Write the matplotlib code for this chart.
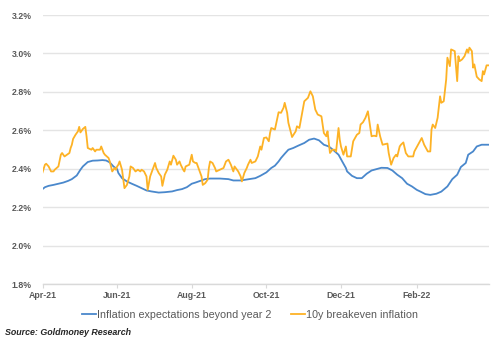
import pandas as pd
import matplotlib.pyplot as plt
import matplotlib.dates as mdates
from matplotlib.ticker import FuncFormatter

plt.rcParams['font.family'] = ['Liberation Sans', 'DejaVu Sans']

# 10y breakeven inflation (%)
be_dates = [
    '2021-04-01', '2021-04-03', '2021-04-04', '2021-04-06', '2021-04-08', '2021-04-10', '2021-04-11',
    '2021-04-14', '2021-04-16', '2021-04-17', '2021-04-19', '2021-04-21', '2021-04-23', '2021-04-24',
    '2021-04-25', '2021-04-26', '2021-04-28', '2021-04-30', '2021-05-01', '2021-05-02', '2021-05-04',
    '2021-05-06', '2021-05-07', '2021-05-08', '2021-05-11', '2021-05-12', '2021-05-14', '2021-05-15',
    '2021-05-18', '2021-05-19', '2021-05-21', '2021-05-22', '2021-05-25', '2021-05-26', '2021-05-28',
    '2021-05-30', '2021-05-31', '2021-06-01', '2021-06-02', '2021-06-03', '2021-06-05', '2021-06-07',
    '2021-06-09', '2021-06-11', '2021-06-12', '2021-06-14', '2021-06-16', '2021-06-18', '2021-06-20',
    '2021-06-21', '2021-06-23', '2021-06-25', '2021-06-26', '2021-06-28', '2021-06-30', '2021-07-02',
    '2021-07-03', '2021-07-05', '2021-07-07', '2021-07-08', '2021-07-10', '2021-07-12', '2021-07-14',
    '2021-07-15', '2021-07-17', '2021-07-19', '2021-07-20', '2021-07-22', '2021-07-23', '2021-07-25',
    '2021-07-26', '2021-07-27', '2021-07-30', '2021-08-01', '2021-08-02', '2021-08-04', '2021-08-05',
    '2021-08-07', '2021-08-09', '2021-08-10', '2021-08-12', '2021-08-14', '2021-08-15', '2021-08-16',
    '2021-08-18', '2021-08-20', '2021-08-21', '2021-08-24', '2021-08-27', '2021-08-29', '2021-08-31',
    '2021-09-02', '2021-09-04', '2021-09-05', '2021-09-08', '2021-09-10', '2021-09-11', '2021-09-13',
    '2021-09-15', '2021-09-16', '2021-09-18', '2021-09-19', '2021-09-22', '2021-09-24', '2021-09-26',
    '2021-09-27', '2021-09-29', '2021-10-01', '2021-10-03', '2021-10-04', '2021-10-05', '2021-10-08',
    '2021-10-11', '2021-10-13', '2021-10-15', '2021-10-16', '2021-10-18', '2021-10-19', '2021-10-22',
    '2021-10-25', '2021-10-26', '2021-10-28', '2021-10-30', '2021-11-01', '2021-11-04', '2021-11-06',
    '2021-11-08', '2021-11-10', '2021-11-12', '2021-11-15', '2021-11-17', '2021-11-19', '2021-11-20',
    '2021-11-22', '2021-11-24', '2021-11-26', '2021-11-27', '2021-11-29', '2021-11-30', '2021-12-01',
    '2021-12-03', '2021-12-05', '2021-12-06', '2021-12-09', '2021-12-11', '2021-12-14', '2021-12-16',
    '2021-12-17', '2021-12-19', '2021-12-21', '2021-12-23', '2021-12-24', '2021-12-26', '2021-12-28',
    '2021-12-30', '2021-12-31', '2022-01-02', '2022-01-04', '2022-01-08', '2022-01-09', '2022-01-11',
    '2022-01-13', '2022-01-15', '2022-01-16', '2022-01-18', '2022-01-19', '2022-01-21', '2022-01-23',
    '2022-01-25', '2022-01-29', '2022-01-30', '2022-02-02', '2022-02-05', '2022-02-07', '2022-02-10',
    '2022-02-12', '2022-02-13', '2022-02-14', '2022-02-16', '2022-02-18', '2022-02-20', '2022-02-21',
    '2022-02-23', '2022-02-25', '2022-02-26', '2022-02-28', '2022-03-01', '2022-03-04', '2022-03-05',
    '2022-03-06', '2022-03-07', '2022-03-08', '2022-03-10', '2022-03-12', '2022-03-14', '2022-03-15',
    '2022-03-16', '2022-03-18', '2022-03-19', '2022-03-20', '2022-03-22', '2022-03-24', '2022-03-26',
    '2022-03-27', '2022-03-28', '2022-03-30', '2022-04-01',
]
be_values = [
    2.381, 2.421, 2.426, 2.412, 2.386, 2.386, 2.395,
    2.412, 2.473, 2.482, 2.464, 2.473, 2.482, 2.508,
    2.525, 2.555, 2.577, 2.595, 2.618, 2.589, 2.607,
    2.618, 2.569, 2.508, 2.499, 2.508, 2.490, 2.499,
    2.499, 2.516, 2.482, 2.473, 2.456, 2.438, 2.386,
    2.404, 2.395, 2.412, 2.421, 2.438, 2.395, 2.299,
    2.316, 2.360, 2.412, 2.404, 2.386, 2.395, 2.386,
    2.395, 2.386, 2.360, 2.290, 2.360, 2.395, 2.430,
    2.404, 2.378, 2.360, 2.311, 2.369, 2.395, 2.438,
    2.421, 2.468, 2.447, 2.421, 2.438, 2.421, 2.395,
    2.386, 2.412, 2.421, 2.473, 2.438, 2.430, 2.430,
    2.395, 2.360, 2.316, 2.325, 2.343, 2.404, 2.438,
    2.430, 2.404, 2.386, 2.395, 2.404, 2.438, 2.447,
    2.421, 2.386, 2.412, 2.386, 2.360, 2.334, 2.378,
    2.404, 2.421, 2.447, 2.430, 2.438, 2.464, 2.516,
    2.499, 2.560, 2.563, 2.543, 2.586, 2.612, 2.604,
    2.694, 2.691, 2.717, 2.743, 2.691, 2.639, 2.565,
    2.595, 2.621, 2.612, 2.682, 2.751, 2.769, 2.803,
    2.777, 2.708, 2.682, 2.673, 2.586, 2.569, 2.595,
    2.482, 2.499, 2.499, 2.490, 2.612, 2.551, 2.516,
    2.473, 2.516, 2.464, 2.464, 2.543, 2.577, 2.586,
    2.630, 2.642, 2.665, 2.699, 2.656, 2.569, 2.572,
    2.569, 2.630, 2.569, 2.525, 2.531, 2.482, 2.421,
    2.456, 2.473, 2.464, 2.516, 2.525, 2.537, 2.482,
    2.464, 2.464, 2.490, 2.525, 2.560, 2.525, 2.490,
    2.490, 2.604, 2.630, 2.612, 2.665, 2.777, 2.743,
    2.751, 2.865, 2.978, 2.934, 3.021, 3.012, 2.934,
    2.856, 2.986, 2.960, 2.969, 2.986, 3.021, 3.004,
    3.030, 3.012, 2.926, 2.943, 2.879, 2.865, 2.856,
    2.908, 2.891, 2.938, 2.938,
]

# Inflation expectations beyond year 2 (%)
ie_dates = [
    '2021-04-01', '2021-04-03', '2021-04-06', '2021-04-10', '2021-04-14', '2021-04-18', '2021-04-22',
    '2021-04-25', '2021-04-29', '2021-05-02', '2021-05-04', '2021-05-08', '2021-05-12', '2021-05-16',
    '2021-05-20', '2021-05-23', '2021-05-26', '2021-05-29', '2021-06-01', '2021-06-02', '2021-06-05',
    '2021-06-09', '2021-06-13', '2021-06-17', '2021-06-21', '2021-06-25', '2021-06-29', '2021-07-05',
    '2021-07-10', '2021-07-16', '2021-07-20', '2021-07-24', '2021-07-28', '2021-08-01', '2021-08-04',
    '2021-08-08', '2021-08-12', '2021-08-16', '2021-08-24', '2021-08-31', '2021-09-04', '2021-09-10',
    '2021-09-17', '2021-09-22', '2021-09-26', '2021-10-01', '2021-10-05', '2021-10-08', '2021-10-11',
    '2021-10-13', '2021-10-16', '2021-10-19', '2021-10-23', '2021-10-27', '2021-11-01', '2021-11-05',
    '2021-11-09', '2021-11-13', '2021-11-17', '2021-11-21', '2021-11-25', '2021-11-29', '2021-12-02',
    '2021-12-05', '2021-12-06', '2021-12-10', '2021-12-14', '2021-12-18', '2021-12-22', '2021-12-26',
    '2021-12-30', '2022-01-03', '2022-01-08', '2022-01-12', '2022-01-16', '2022-01-20', '2022-01-24',
    '2022-01-28', '2022-02-01', '2022-02-04', '2022-02-08', '2022-02-12', '2022-02-17', '2022-02-21',
    '2022-02-26', '2022-03-02', '2022-03-06', '2022-03-09', '2022-03-13', '2022-03-15', '2022-03-19',
    '2022-03-22', '2022-03-26', '2022-04-01',
]
ie_values = [
    2.294, 2.304, 2.311, 2.316, 2.322, 2.328, 2.337,
    2.346, 2.365, 2.395, 2.412, 2.435, 2.442, 2.443,
    2.445, 2.443, 2.433, 2.412, 2.398, 2.378, 2.351,
    2.334, 2.322, 2.311, 2.299, 2.287, 2.282, 2.276,
    2.278, 2.282, 2.289, 2.294, 2.304, 2.322, 2.328,
    2.337, 2.346, 2.349, 2.349, 2.346, 2.339, 2.339,
    2.346, 2.351, 2.363, 2.381, 2.404, 2.416, 2.438,
    2.456, 2.478, 2.499, 2.508, 2.520, 2.534, 2.551,
    2.557, 2.548, 2.525, 2.516, 2.496, 2.473, 2.438,
    2.404, 2.386, 2.363, 2.351, 2.351, 2.374, 2.391,
    2.398, 2.405, 2.404, 2.391, 2.369, 2.351, 2.322,
    2.308, 2.290, 2.281, 2.268, 2.264, 2.270, 2.281,
    2.308, 2.346, 2.369, 2.409, 2.430, 2.473, 2.490,
    2.516, 2.525, 2.525,
]

y_ticks = [1.8, 2.0, 2.2, 2.4, 2.6, 2.8, 3.0, 3.2]
x_ticks = ['2021-04-01', '2021-06-01', '2021-08-01', '2021-10-01', '2021-12-01', '2022-02-01']

TXT = '#595959'

fig = plt.figure(figsize=(5, 3.41), dpi=100)
ax = fig.add_axes([0.085, 0.167, 0.893, 0.789])

ax.plot(pd.to_datetime(ie_dates), ie_values, color='#4a88cc', lw=1.3,
        label='Inflation expectations beyond year 2')
ax.plot(pd.to_datetime(be_dates), be_values, color='#fdb225', lw=1.3,
        label='10y breakeven inflation')

ax.set_ylim(1.8, 3.2)
ax.set_yticks(y_ticks)
ax.yaxis.set_major_formatter(FuncFormatter(lambda v, p: f'{v:.1f}%'))
ax.set_xlim(pd.Timestamp('2021-04-01'), pd.Timestamp('2022-04-01'))
ax.set_xticks(pd.to_datetime(x_ticks))
ax.xaxis.set_major_formatter(mdates.DateFormatter('%b-%y'))

ax.grid(axis='y', color='#e4e4e4', lw=1.0)
ax.set_axisbelow(True)
for s in ['top', 'right', 'left']:
    ax.spines[s].set_visible(False)
ax.spines['bottom'].set_color('#d9d9d9')
ax.spines['bottom'].set_linewidth(1.0)

ax.tick_params(axis='y', length=0, pad=8, labelsize=6.3, labelcolor=TXT)
ax.tick_params(axis='x', length=3, color='#d9d9d9', pad=2, labelsize=6.3, labelcolor=TXT)
for lab in ax.get_xticklabels() + ax.get_yticklabels():
    lab.set_fontweight('bold')

leg = fig.legend(loc='center', bbox_to_anchor=(0.5, 0.077), ncol=2, frameon=False,
                 fontsize=7.75, handlelength=1.3, handletextpad=0.1, columnspacing=1.9)
for t in leg.get_texts():
    t.set_color(TXT)

fig.text(0.01, 0.024, 'Source: Goldmoney Research', fontsize=6.4, style='italic',
         fontweight='bold', color='#262626', va='center')

plt.savefig('out.png', dpi=100)
